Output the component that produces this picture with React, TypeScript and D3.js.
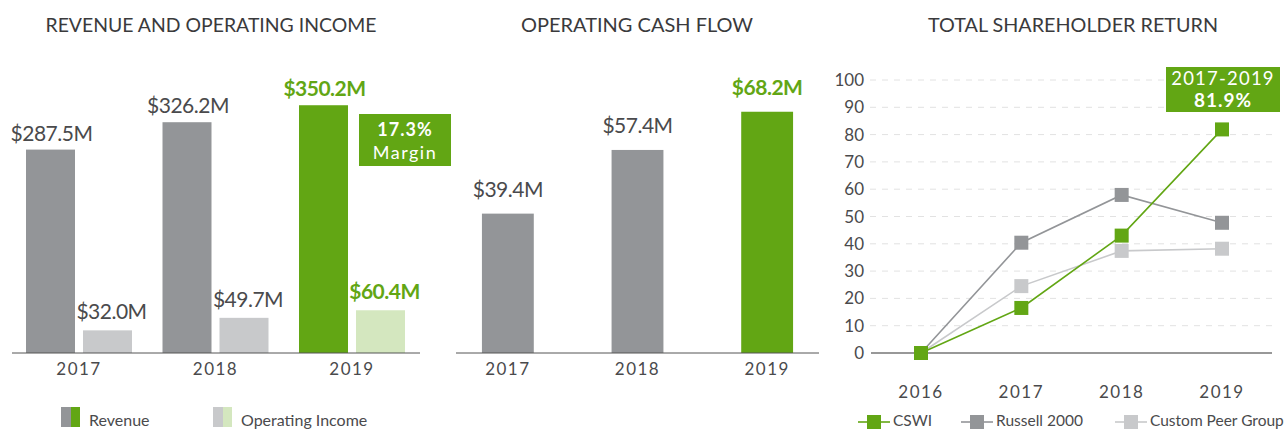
import React from "react";
import * as d3 from "d3";

const years = ["2017", "2018", "2019"];
const revenue = [287.5, 326.2, 350.2];
const opIncome = [32.0, 49.7, 60.4];
const revenueLabels = ["$287.5M", "$326.2M", "$350.2M"];
const opIncomeLabels = ["$32.0M", "$49.7M", "$60.4M"];
const cashFlow = [39.4, 57.4, 68.2];
const cashFlowLabels = ["$39.4M", "$57.4M", "$68.2M"];
const tsrYears = ["2016", "2017", "2018", "2019"];
const cswi = [0, 16.5, 43, 81.9];
const russell = [0, 40.4, 57.9, 47.7];
const peer = [0, 24.5, 37.4, 38.2];
const tsrTicks = [0, 10, 20, 30, 40, 50, 60, 70, 80, 90, 100];

const GREEN = "#62a614";
const LIGHTGREEN = "#d4e7bf";
const DARK = "#939598";
const LIGHT = "#c8c9cb";
const TEXT = "#4a4a4c";
const FONT = "Lato, 'Open Sans', sans-serif";

export default function App() {
  const base = 353;
  // Panel 1
  const y1 = d3.scaleLinear().domain([0, 400]).range([base, base - 283]);
  const x1 = d3.scaleBand().domain(years).range([12, 421.5]).padding(0);
  const barW = 49;
  // Panel 2
  const y2 = d3.scaleLinear().domain([0, 80]).range([base, base - 283]);
  const x2 = d3.scaleBand().domain(years).range([456, 819]).paddingInner(0.6).paddingOuter(0.2);
  // Panel 3
  const y3 = d3.scaleLinear().domain([0, 100]).range([353, 80]);
  const x3 = d3.scalePoint().domain(tsrYears).range([921, 1222]);
  const line = d3.line<number>().x((_, i) => x3(tsrYears[i])!).y((d) => y3(d));
  const series = [
    { name: "Custom Peer Group", vals: peer, color: LIGHT },
    { name: "Russell 2000", vals: russell, color: DARK },
    { name: "CSWI", vals: cswi, color: GREEN },
  ];
  const legend3 = [
    { name: "CSWI", color: GREEN, x: 858 },
    { name: "Russell 2000", color: DARK, x: 961 },
    { name: "Custom Peer Group", color: LIGHT, x: 1115 },
  ];

  return (
    <svg width={1286} height={430} style={{ position: "absolute", left: 0, top: 0, fontFamily: FONT }}>
      <rect width={1286} height={430} fill="#fff" />
      {/* Titles */}
      <text x={211} y={32} textAnchor="middle" fontSize={19} fill="#3a3a3c" textLength={331} lengthAdjust="spacingAndGlyphs">REVENUE AND OPERATING INCOME</text>
      <text x={637} y={32} textAnchor="middle" fontSize={19} fill="#3a3a3c" textLength={232} lengthAdjust="spacingAndGlyphs">OPERATING CASH FLOW</text>
      <text x={1073} y={32} textAnchor="middle" fontSize={19} fill="#3a3a3c" textLength={290} lengthAdjust="spacingAndGlyphs">TOTAL SHAREHOLDER RETURN</text>

      {/* Panel 1 */}
      {years.map((yr, i) => {
        const bx = x1(yr)!;
        const rx = bx + 14;
        const ox = rx + barW + 8;
        const is19 = i === 2;
        return (
          <g key={yr}>
            <rect x={rx} y={y1(revenue[i])} width={barW} height={base - y1(revenue[i])} fill={is19 ? GREEN : DARK} />
            <rect x={ox} y={y1(opIncome[i])} width={barW} height={base - y1(opIncome[i])} fill={is19 ? LIGHTGREEN : LIGHT} />
            <text x={rx + barW / 2 + 1} y={y1(revenue[i]) - 9} textAnchor="middle" fontSize={21} fill={is19 ? GREEN : TEXT} fontWeight={is19 ? 700 : 400} letterSpacing={-0.5}>{revenueLabels[i]}</text>
            <text x={ox + barW / 2 + 4} y={y1(opIncome[i]) - 11} textAnchor="middle" fontSize={21} fill={is19 ? GREEN : TEXT} fontWeight={is19 ? 700 : 400} letterSpacing={-0.5}>{opIncomeLabels[i]}</text>
            <text x={rx + barW + 4} y={375} textAnchor="middle" fontSize={17} fill={TEXT} letterSpacing={1.5}>{yr}</text>
          </g>
        );
      })}
      <line x1={12} x2={420} y1={base} y2={base} stroke="#555" strokeWidth={1} />
      <rect x={359} y={114} width={92} height={52} fill={GREEN} />
      <text x={405} y={136} textAnchor="middle" fontSize={18} fontWeight={700} fill="#fff" letterSpacing={1}>17.3%</text>
      <text x={405} y={159} textAnchor="middle" fontSize={18} fill="#fff" letterSpacing={1.5}>Margin</text>
      {/* Legend 1 */}
      <rect x={61} y={407} width={10} height={20} fill={DARK} />
      <rect x={71} y={407} width={9} height={20} fill={GREEN} />
      <text x={89} y={426} fontSize={16} fill={TEXT}>Revenue</text>
      <rect x={213} y={407} width={10} height={20} fill={LIGHT} />
      <rect x={223} y={407} width={9} height={20} fill={LIGHTGREEN} />
      <text x={241} y={426} fontSize={16} fill={TEXT}>Operating Income</text>

      {/* Panel 2 */}
      {years.map((yr, i) => {
        const bx = x2(yr)!;
        const w = x2.bandwidth();
        const is19 = i === 2;
        return (
          <g key={yr}>
            <rect x={bx} y={y2(cashFlow[i])} width={w} height={base - y2(cashFlow[i])} fill={is19 ? GREEN : DARK} />
            <text x={bx + w / 2} y={y2(cashFlow[i]) - 17} textAnchor="middle" fontSize={21} fill={is19 ? GREEN : TEXT} fontWeight={is19 ? 700 : 400} letterSpacing={-0.5}>{cashFlowLabels[i]}</text>
            <text x={bx + w / 2} y={375} textAnchor="middle" fontSize={17} fill={TEXT} letterSpacing={1.5}>{yr}</text>
          </g>
        );
      })}
      <line x1={456} x2={819} y1={base} y2={base} stroke="#555" strokeWidth={1} />

      {/* Panel 3 */}
      {tsrTicks.map((t) => (
        <g key={t}>
          {t > 0 && <line x1={870} x2={1272} y1={y3(t)} y2={y3(t)} stroke="#e2e2e2" strokeDasharray="6,6" />}
          <text x={864} y={y3(t) + 6} textAnchor="end" fontSize={17} fill={TEXT}>{t}</text>
        </g>
      ))}
      <line x1={871} x2={1272} y1={353} y2={353} stroke="#333" strokeWidth={1.2} />
      {tsrYears.map((yr) => (
        <text key={yr} x={x3(yr)} y={398} textAnchor="middle" fontSize={17} fill={TEXT} letterSpacing={1.5}>{yr}</text>
      ))}
      {series.map((s) => (
        <g key={s.name}>
          <path d={line(s.vals)!} fill="none" stroke={s.color} strokeWidth={1.6} />
          {s.vals.map((v, i) => (
            <rect key={i} x={x3(tsrYears[i])! - 7} y={y3(v) - 7} width={14} height={14} fill={s.color} />
          ))}
        </g>
      ))}
      <rect x={1166} y={67} width={114} height={45} fill={GREEN} />
      <text x={1223} y={85} textAnchor="middle" fontSize={18.5} fill="#fff" letterSpacing={1.2}>2017-2019</text>
      <text x={1223} y={107} textAnchor="middle" fontSize={19} fontWeight={700} fill="#fff" letterSpacing={1}>81.9%</text>
      {legend3.map((l) => (
        <g key={l.name}>
          <line x1={l.x} x2={l.x + 32} y1={422} y2={422} stroke={l.color} strokeWidth={1.6} />
          <rect x={l.x + 9} y={415} width={14} height={14} fill={l.color} />
          <text x={l.x + 35} y={426} fontSize={15.5} fill={TEXT}>{l.name}</text>
        </g>
      ))}
    </svg>
  );
}
